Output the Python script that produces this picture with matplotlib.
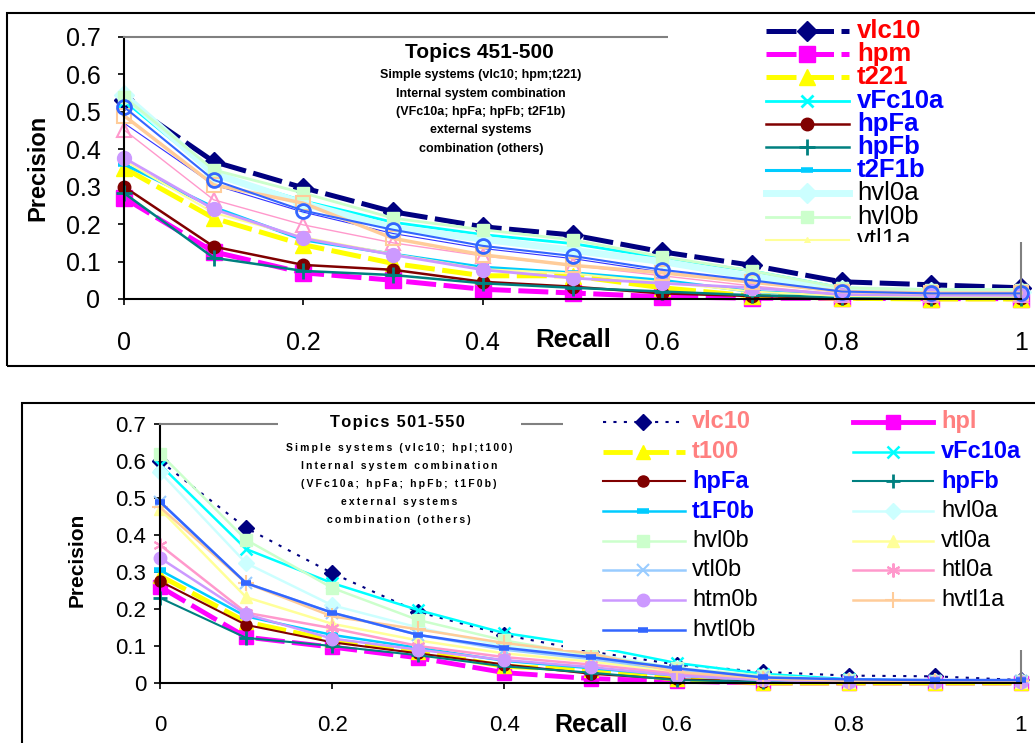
import matplotlib

matplotlib.use("Agg")
import matplotlib.pyplot as plt
from matplotlib.patches import Rectangle

plt.rcParams["font.family"] = ["Liberation Sans", "DejaVu Sans"]

W, H = 1035, 743

recall = [0.0, 0.1, 0.2, 0.3, 0.4, 0.5, 0.6, 0.7, 0.8, 0.9, 1.0]

# --- Topics 451-500 (upper chart) ---
t1_vlc10 = [0.532, 0.367, 0.297, 0.233, 0.193, 0.171, 0.126, 0.090, 0.046, 0.038, 0.030]
t1_hpm = [0.270, 0.126, 0.070, 0.050, 0.026, 0.016, 0.006, 0.002, 0.002, 0.001, 0.001]
t1_t221 = [0.350, 0.216, 0.145, 0.095, 0.062, 0.062, 0.030, 0.008, 0.002, 0.000, 0.000]
t1_vFc10a = [0.530, 0.335, 0.262, 0.205, 0.172, 0.148, 0.110, 0.075, 0.030, 0.022, 0.022]
t1_hpFa = [0.300, 0.140, 0.091, 0.078, 0.046, 0.033, 0.015, 0.008, 0.003, 0.002, 0.002]
t1_hpFb = [0.283, 0.110, 0.075, 0.064, 0.042, 0.030, 0.020, 0.010, 0.005, 0.004, 0.004]
t1_t2F1b = [0.360, 0.245, 0.158, 0.120, 0.085, 0.070, 0.050, 0.020, 0.010, 0.008, 0.008]
t1_hvl0a = [0.545, 0.335, 0.255, 0.190, 0.160, 0.130, 0.100, 0.060, 0.025, 0.020, 0.020]
t1_hvl0b = [0.540, 0.345, 0.283, 0.216, 0.185, 0.158, 0.113, 0.075, 0.030, 0.025, 0.025]
t1_vtl1a = [0.370, 0.230, 0.165, 0.120, 0.080, 0.068, 0.045, 0.020, 0.008, 0.006, 0.006]
t1_vtl1b = [0.470, 0.305, 0.232, 0.175, 0.135, 0.108, 0.072, 0.045, 0.018, 0.014, 0.014]
t1_htl1a = [0.452, 0.265, 0.198, 0.150, 0.115, 0.090, 0.062, 0.035, 0.012, 0.010, 0.010]
t1_htm1b = [0.377, 0.240, 0.162, 0.118, 0.078, 0.056, 0.042, 0.030, 0.012, 0.010, 0.010]
t1_hvtl1a = [0.490, 0.305, 0.256, 0.162, 0.118, 0.090, 0.070, 0.045, 0.020, 0.016, 0.016]
t1_hvtl1b = [0.513, 0.318, 0.236, 0.185, 0.142, 0.115, 0.078, 0.050, 0.020, 0.015, 0.015]

t1_names = ["vlc10", "hpm", "t221", "vFc10a", "hpFa", "hpFb", "t2F1b", "hvl0a",
            "hvl0b", "vtl1a", "vtl1b", "htl1a", "htm1b", "hvtl1a", "hvtl1b"]
t1_values = [t1_vlc10, t1_hpm, t1_t221, t1_vFc10a, t1_hpFa, t1_hpFb, t1_t2F1b, t1_hvl0a,
             t1_hvl0b, t1_vtl1a, t1_vtl1b, t1_htl1a, t1_htm1b, t1_hvtl1a, t1_hvtl1b]

# --- Topics 501-550 (lower chart) ---
t2_vlc10 = [0.600, 0.419, 0.297, 0.192, 0.130, 0.085, 0.050, 0.030, 0.020, 0.018, 0.008]
t2_hpl = [0.260, 0.124, 0.097, 0.068, 0.028, 0.012, 0.005, 0.000, 0.000, 0.000, 0.000]
t2_t100 = [0.290, 0.165, 0.115, 0.085, 0.045, 0.035, 0.010, 0.000, 0.000, 0.000, 0.000]
t2_vFc10a = [0.590, 0.362, 0.270, 0.197, 0.135, 0.100, 0.054, 0.025, 0.010, 0.006, 0.006]
t2_hpFa = [0.275, 0.157, 0.110, 0.080, 0.050, 0.025, 0.010, 0.004, 0.002, 0.002, 0.002]
t2_hpFb = [0.230, 0.122, 0.100, 0.075, 0.045, 0.028, 0.008, 0.003, 0.002, 0.002, 0.002]
t2_t1F0b = [0.305, 0.180, 0.130, 0.095, 0.060, 0.040, 0.020, 0.008, 0.004, 0.004, 0.004]
t2_hvl0a = [0.570, 0.324, 0.210, 0.150, 0.100, 0.080, 0.040, 0.018, 0.008, 0.006, 0.006]
t2_hvl0b = [0.620, 0.387, 0.257, 0.170, 0.115, 0.075, 0.040, 0.020, 0.008, 0.006, 0.006]
t2_vtl0a = [0.470, 0.232, 0.160, 0.115, 0.080, 0.058, 0.030, 0.010, 0.004, 0.004, 0.004]
t2_vtl0b = [0.490, 0.270, 0.190, 0.130, 0.090, 0.065, 0.035, 0.015, 0.006, 0.006, 0.006]
t2_htl0a = [0.373, 0.190, 0.148, 0.100, 0.070, 0.050, 0.025, 0.010, 0.004, 0.004, 0.004]
t2_htm0b = [0.338, 0.186, 0.120, 0.090, 0.062, 0.043, 0.020, 0.008, 0.004, 0.004, 0.004]
t2_hvtl1a = [0.475, 0.270, 0.180, 0.145, 0.108, 0.080, 0.030, 0.012, 0.006, 0.006, 0.006]
t2_hvtl0b = [0.490, 0.270, 0.190, 0.130, 0.095, 0.070, 0.040, 0.015, 0.010, 0.008, 0.008]

t2_names = ["vlc10", "hpl", "t100", "vFc10a", "hpFa", "hpFb", "t1F0b", "hvl0a",
            "hvl0b", "vtl0a", "vtl0b", "htl0a", "htm0b", "hvtl1a", "hvtl0b"]
t2_values = [t2_vlc10, t2_hpl, t2_t100, t2_vFc10a, t2_hpFa, t2_hpFb, t2_t1F0b, t2_hvl0a,
             t2_hvl0b, t2_vtl0a, t2_vtl0b, t2_htl0a, t2_htm0b, t2_hvtl1a, t2_hvtl0b]

DASH = (6, 1.5)
ASTER = (6, 2, 0)

t1_styles = [
    dict(color="#000080", lw=3.6, dashes=DASH, marker="D", ms=10),
    dict(color="#FF00FF", lw=3.6, dashes=DASH, marker="s", ms=11),
    dict(color="#FFFF00", lw=3.6, dashes=DASH, marker="^", ms=11),
    dict(color="#00FFFF", lw=2.0, marker="x", ms=9, mew=2),
    dict(color="#800000", lw=1.8, marker="o", ms=9),
    dict(color="#008080", lw=1.8, marker="+", ms=11, mew=2),
    dict(color="#00CCFF", lw=2.2, marker="_", ms=9, mew=4),
    dict(color="#CCFFFF", lw=5.0, marker="D", ms=10),
    dict(color="#CCFFCC", lw=2.0, marker="s", ms=9),
    dict(color="#FFFF99", lw=1.5, marker="^", ms=4),
    dict(color="#3333FF", lw=0.8, marker="None"),
    dict(color="#FF99CC", lw=1.0, marker="^", ms=10, mfc="none", mew=1.5),
    dict(color="#CC99FF", lw=2.0, marker="o", ms=10),
    dict(color="#FFCC99", lw=2.5, marker="s", ms=10, mfc="none", mew=1.5),
    dict(color="#3366FF", lw=1.5, marker="o", ms=10, mfc="none", mew=2),
]

t2_styles = [
    dict(color="#000080", lw=1.5, dashes=(1.5, 3.5), marker="D", ms=8),
    dict(color="#FF00FF", lw=3.5, dashes=DASH, marker="s", ms=10, leg_solid=True),
    dict(color="#FFFF00", lw=3.5, dashes=DASH, marker="^", ms=10),
    dict(color="#00FFFF", lw=1.8, marker="x", ms=9, mew=1.8),
    dict(color="#800000", lw=1.5, marker="o", ms=8),
    dict(color="#008080", lw=1.5, marker="+", ms=10, mew=2),
    dict(color="#00CCFF", lw=1.8, marker="_", ms=8, mew=4),
    dict(color="#CCFFFF", lw=1.8, marker="D", ms=8),
    dict(color="#CCFFCC", lw=1.8, marker="s", ms=8),
    dict(color="#FFFF99", lw=1.8, marker="^", ms=9),
    dict(color="#99CCFF", lw=1.8, marker="x", ms=9, mew=1.5),
    dict(color="#FF99CC", lw=1.8, marker=ASTER, ms=10, mew=1.5),
    dict(color="#CC99FF", lw=1.8, marker="o", ms=9),
    dict(color="#FFCC99", lw=1.8, marker="+", ms=11, mew=1.5),
    dict(color="#3366FF", lw=1.8, marker="_", ms=7, mew=4),
]

t1_label_colors = ["#FF0000"] * 3 + ["#0000FF"] * 4 + ["black"] * 8
t2_label_colors = ["#FF8080"] * 3 + ["#0000FF"] * 4 + ["black"] * 8


def fx(px):
    return px / W


def fy(py):
    return 1 - py / H


def rect(x0, y0, x1, y1):
    return [fx(x0), fy(y1), fx(x1) - fx(x0), fy(y0) - fy(y1)]


def plot_kwargs(st):
    kw = dict(color=st["color"], linewidth=st["lw"], marker=st["marker"],
              markersize=st.get("ms", 6), markeredgewidth=st.get("mew", 1.0),
              markerfacecolor=st.get("mfc", st["color"]), markeredgecolor=st["color"])
    if "dashes" in st:
        kw["dashes"] = st["dashes"]
    return kw


def spaced(s, sep="\u200a"):
    return sep.join(s)


def draw_panel(box, xlab_pad, ylab_pad, tick_size, names, values, styles):
    ax = fig.add_axes(rect(*box))
    for name, vals, st in zip(names, values, styles):
        ax.plot(recall, vals, label=name, clip_on=False, **plot_kwargs(st))
    ax.set_xlim(0, 1)
    ax.set_ylim(0, 0.7)
    ax.set_xticks([0, 0.2, 0.4, 0.6, 0.8, 1.0])
    ax.set_xticklabels(["0", "0.2", "0.4", "0.6", "0.8", "1"])
    ax.set_yticks([0, 0.1, 0.2, 0.3, 0.4, 0.5, 0.6, 0.7])
    ax.set_yticklabels(["0", "0.1", "0.2", "0.3", "0.4", "0.5", "0.6", "0.7"])
    ax.tick_params(axis="x", direction="out", length=4, width=1.2, pad=xlab_pad,
                   labelsize=tick_size)
    ax.tick_params(axis="y", direction="out", length=4, width=1.2, pad=ylab_pad,
                   labelsize=tick_size)
    for side in ("left", "bottom"):
        ax.spines[side].set_color("black")
        ax.spines[side].set_linewidth(1.5)
    for side in ("top", "right"):
        ax.spines[side].set_color("#808080")
        ax.spines[side].set_linewidth(1.5)
    return ax


def draw_legend(box, rows, names, styles, label_colors, fsize):
    lx0, ly0, lx1, ly1 = box
    lax = fig.add_axes(rect(*box))
    lax.set_xlim(lx0, lx1)
    lax.set_ylim(ly1, ly0)
    lax.set_facecolor("white")
    lax.set_xticks([])
    lax.set_yticks([])
    for sp in lax.spines.values():
        sp.set_visible(False)
    for (hx0, hx1, hm, tx, ty), name, st, tc in zip(rows, names, styles, label_colors):
        kw = plot_kwargs(st)
        marker = kw.pop("marker")
        if st.get("leg_solid"):
            kw.pop("dashes", None)
        lax.plot([hx0, hx1], [ty, ty], marker="None", **kw)
        lax.plot([hm], [ty], marker=marker, linestyle="None",
                 **{k: v for k, v in kw.items() if k not in ("linewidth", "dashes")})
        bold = tc != "black"
        lax.text(tx, ty, name, color=tc, fontsize=fsize, va="center", ha="left",
                 fontweight="bold" if bold else "normal", clip_on=True)
    return lax


fig = plt.figure(figsize=(W / 100, H / 100), dpi=100)

# outer frames of the two charts
fig.patches.append(Rectangle((fx(7), fy(366)), fx(1040) - fx(7), fy(13) - fy(366),
                             transform=fig.transFigure, fill=False, ec="black", lw=1.5))
fig.patches.append(Rectangle((fx(22), fy(760)), fx(1040) - fx(22), fy(403) - fy(760),
                             transform=fig.transFigure, fill=False, ec="black", lw=1.5))

# ---------------- upper chart ----------------
ax1 = draw_panel((124, 37, 1021, 299), 19, 13, 18, t1_names, t1_values, t1_styles)
fig.text(fx(38), fy(168), "Precision", rotation=90, fontsize=17, fontweight="bold",
         ha="center", va="center")
fig.text(fx(573), fy(340), "Recall", fontsize=18.5, fontweight="bold",
         ha="center", va="center")
fig.text(fx(479), fy(52), "Topics 451-500", fontsize=15, fontweight="bold",
         ha="center", va="center")
t1_sub = ["Simple systems (vlc10; hpm;t221)", "Internal system combination",
          "(VFc10a; hpFa; hpFb; t2F1b)", "external systems", "combination (others)"]
for i, line in enumerate(t1_sub):
    fig.text(fx(481), fy(75 + 18.5 * i), line, fontsize=9, fontweight="bold",
             ha="center", va="center")

rows1 = [(766, 849, 807, 857, 31 + 23.2 * i) for i in range(len(t1_names))]
draw_legend((668, 18, 1040, 242), rows1, t1_names, t1_styles, t1_label_colors, 18.5)

# ---------------- lower chart ----------------
ax2 = draw_panel((160, 424, 1021, 683), 19, 6, 16, t2_names, t2_values, t2_styles)
fig.text(fx(77), fy(560), "Precision", rotation=90, fontsize=15, fontweight="bold",
         ha="center", va="center")
fig.text(fx(591), fy(725), "Recall", fontsize=18, fontweight="bold",
         ha="center", va="center")
fig.patches.append(Rectangle((fx(278), fy(432)), fx(521) - fx(278), fy(412) - fy(432),
                             transform=fig.transFigure, fc="white", ec="none", zorder=1))
fig.text(fx(397), fy(422), spaced("Topics 501-550"), fontsize=11.8, fontweight="bold",
         ha="center", va="center")
t2_sub = ["Simple systems (vlc10; hpl;t100)", "Internal system combination",
          "(VFc10a; hpFa; hpFb; t1F0b)", "external systems", "combination (others)"]
for i, line in enumerate(t2_sub):
    fig.text(fx(399), fy(448 + 18 * i), spaced(line, "\u2009"), fontsize=7.5,
             fontweight="bold", ha="center", va="center")

rows2 = []
for i in range(len(t2_names)):
    r, c = divmod(i, 2)
    ty = 422 + 29.7 * r
    if c == 0:
        rows2.append((603, 685, 643, 692, ty))
    else:
        rows2.append((853, 933, 893, 941, ty))
draw_legend((563, 405, 1040, 650), rows2, t2_names, t2_styles, t2_label_colors, 17)

fig.savefig("out.png", dpi=100)
